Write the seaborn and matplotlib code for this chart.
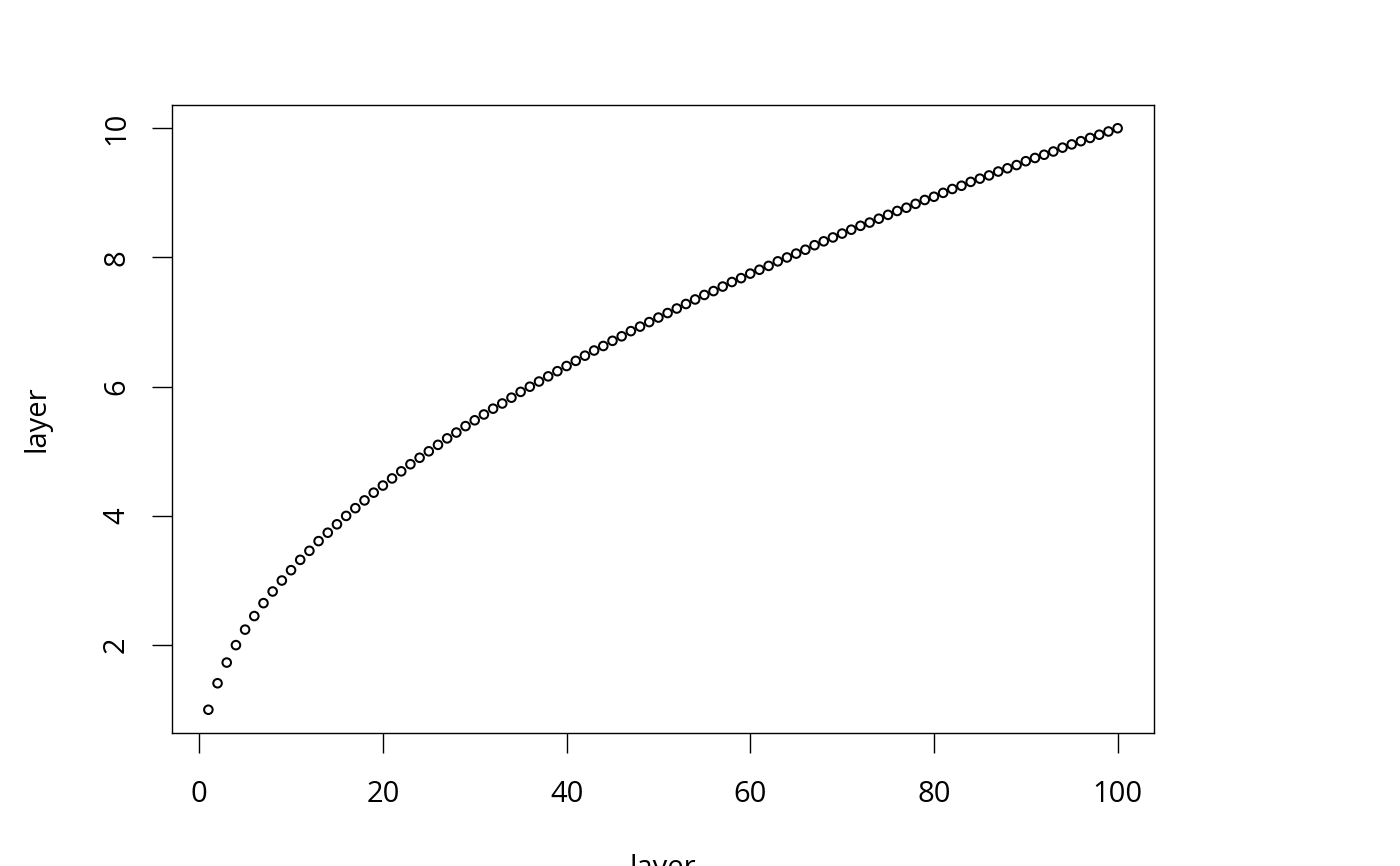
import matplotlib
matplotlib.use("Agg")
import matplotlib.pyplot as plt
import seaborn as sns
import pandas as pd

# data (index and value)
x_index = list(range(1, 101))
y_values = [
    1.00, 1.41, 1.73, 2.00, 2.24, 2.45, 2.65, 2.83, 3.00, 3.16,
    3.32, 3.46, 3.61, 3.74, 3.87, 4.00, 4.12, 4.24, 4.36, 4.47,
    4.58, 4.69, 4.80, 4.90, 5.00, 5.10, 5.20, 5.29, 5.39, 5.48,
    5.57, 5.66, 5.74, 5.83, 5.92, 6.00, 6.08, 6.16, 6.24, 6.32,
    6.40, 6.48, 6.56, 6.63, 6.71, 6.78, 6.86, 6.93, 7.00, 7.07,
    7.14, 7.21, 7.28, 7.35, 7.42, 7.48, 7.55, 7.62, 7.68, 7.75,
    7.81, 7.87, 7.94, 8.00, 8.06, 8.12, 8.19, 8.25, 8.31, 8.37,
    8.43, 8.49, 8.54, 8.60, 8.66, 8.72, 8.77, 8.83, 8.89, 8.94,
    9.00, 9.06, 9.11, 9.17, 9.22, 9.27, 9.33, 9.38, 9.43, 9.49,
    9.54, 9.59, 9.64, 9.70, 9.75, 9.80, 9.85, 9.90, 9.95, 10.00,
]
x_ticks = [0, 20, 40, 60, 80, 100]
y_ticks = [2, 4, 6, 8, 10]
x_label = "layer"
y_label = "layer"

sns.set_theme(style="ticks")
plt.rcParams["font.family"] = ["Open Sans", "DejaVu Sans"]

df = pd.DataFrame({"x": x_index, "y": y_values})

fig = plt.figure(figsize=(14, 8.66), dpi=100)
ax = fig.add_axes([172 / 1400, 1 - 733 / 866, (1154 - 172) / 1400, (733 - 105) / 866])

sns.scatterplot(data=df, x="x", y="y", ax=ax, marker="o", s=38,
                facecolors="none", edgecolor="black", linewidth=1.45)

ax.set_xlim(-2.96, 103.96)
ax.set_ylim(0.64, 10.36)
ax.set_xticks(x_ticks)
ax.set_yticks(y_ticks)
ax.set_xticklabels([str(t) for t in x_ticks])
ax.set_yticklabels([str(t) for t in y_ticks], rotation=90, va="center")

for sp in ax.spines.values():
    sp.set_visible(True)
    sp.set_color("black")
    sp.set_linewidth(1.0)

ax.tick_params(axis="both", direction="out", length=14.5, width=1.0,
               color="black", labelsize=21, labelcolor="black")
ax.tick_params(axis="x", pad=19)
ax.tick_params(axis="y", pad=15)
ax.set_xlabel(x_label, fontsize=21, color="black", labelpad=33)
ax.set_ylabel(y_label, fontsize=21, color="black", labelpad=36.5)
ax.grid(False)
ax.set_facecolor("white")
fig.patch.set_facecolor("white")

fig.savefig("out.png", dpi=100, facecolor="white")
